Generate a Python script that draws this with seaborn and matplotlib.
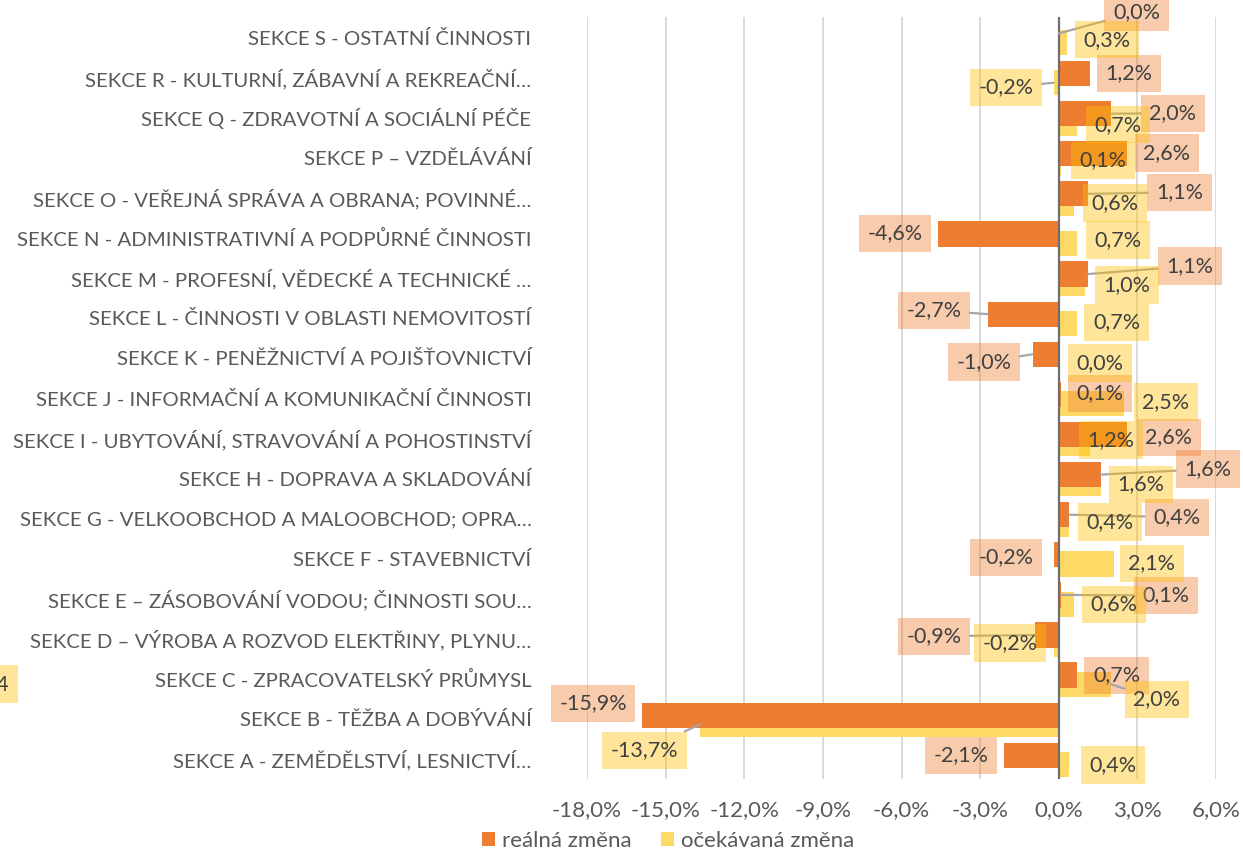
import numpy as np
import pandas as pd
import matplotlib
matplotlib.use("Agg")
import matplotlib.pyplot as plt
import seaborn as sns

# Sections, top to bottom
categories = [
    "SEKCE S - OSTATNÍ ČINNOSTI",
    "SEKCE R - KULTURNÍ, ZÁBAVNÍ A REKREAČNÍ…",
    "SEKCE Q - ZDRAVOTNÍ A SOCIÁLNÍ PÉČE",
    "SEKCE P – VZDĚLÁVÁNÍ",
    "SEKCE O - VEŘEJNÁ SPRÁVA A OBRANA; POVINNÉ…",
    "SEKCE N - ADMINISTRATIVNÍ A PODPŮRNÉ ČINNOSTI",
    "SEKCE M - PROFESNÍ, VĚDECKÉ A TECHNICKÉ …",
    "SEKCE L - ČINNOSTI V OBLASTI NEMOVITOSTÍ",
    "SEKCE K - PENĚŽNICTVÍ A POJIŠŤOVNICTVÍ",
    "SEKCE J - INFORMAČNÍ A KOMUNIKAČNÍ ČINNOSTI",
    "SEKCE I - UBYTOVÁNÍ, STRAVOVÁNÍ A POHOSTINSTVÍ",
    "SEKCE H - DOPRAVA A SKLADOVÁNÍ",
    "SEKCE G - VELKOOBCHOD A MALOOBCHOD; OPRA…",
    "SEKCE F - STAVEBNICTVÍ",
    "SEKCE E – ZÁSOBOVÁNÍ VODOU; ČINNOSTI SOU…",
    "SEKCE D – VÝROBA A ROZVOD ELEKTŘINY, PLYNU…",
    "SEKCE C - ZPRACOVATELSKÝ PRŮMYSL",
    "SEKCE B - TĚŽBA A DOBÝVÁNÍ",
    "SEKCE A - ZEMĚDĚLSTVÍ, LESNICTVÍ…",
]
real_change = [0.0, 1.2, 2.0, 2.6, 1.1, -4.6, 1.1, -2.7, -1.0, 0.1,
               2.6, 1.6, 0.4, -0.2, 0.1, -0.9, 0.7, -15.9, -2.1]
expected_change = [0.3, -0.2, 0.7, 0.1, 0.6, 0.7, 1.0, 0.7, 0.0, 2.5,
                   1.2, 1.6, 0.4, 2.1, 0.6, -0.2, 2.0, -13.7, 0.4]
x_ticks = [-18, -15, -12, -9, -6, -3, 0, 3, 6]
series_names = ["reálná změna", "očekávaná změna"]

# Hand-placed data-label positions (x in %, y in row units) and leader flags
real_label_pos = [(2.97, -0.62), (2.67, 0.90), (4.35, 1.90), (4.12, 2.89),
                  (4.61, 3.87), (-6.25, 4.89), (5.00, 5.71), (-4.77, 6.81),
                  (-2.86, 8.10), (1.56, 8.88), (4.20, 9.98), (5.68, 10.77),
                  (4.50, 11.97), (-2.02, 12.97), (4.08, 13.92), (-4.77, 14.94),
                  (2.21, 15.91), (-17.77, 16.61), (-3.74, 17.91)]
exp_label_pos = [(1.83, 0.07), (-2.02, 1.25), (2.25, 2.19), (1.68, 3.07),
                 (2.14, 4.14), (2.25, 5.06), (2.59, 6.18), (2.21, 7.11),
                 (1.56, 8.13), (4.08, 9.10), (1.98, 10.05), (3.13, 11.15),
                 (1.95, 12.09), (3.55, 13.12), (2.10, 14.14), (-1.87, 15.11),
                 (3.74, 16.51), (-15.79, 17.78), (2.06, 18.15)]
real_leader = [1, 0, 1, 0, 1, 0, 1, 1, 1, 0, 0, 1, 1, 0, 1, 1, 0, 0, 0]
exp_leader = [0, 1, 0, 0, 0, 0, 0, 0, 0, 0, 0, 0, 0, 0, 0, 0, 1, 1, 0]

ORANGE = "#ED7D31"
YELLOW = "#FFD966"
TEXT = "#595959"
LABEL_TEXT = "#404040"
FS = 14.7
XFS = 16
LFS = 15.5

sns.set_theme(style="white")
plt.rcParams["font.family"] = ["Lato", "DejaVu Sans"]

fig = plt.figure(figsize=(12.43, 8.5), dpi=100)
ax = fig.add_axes([587 / 1243, 1 - 779 / 850, (1216 - 587) / 1243, (779 - 17) / 850])

n = len(categories)
rows = np.arange(n)
df = pd.DataFrame({
    "row": rows,
    "real": real_change,
    "expected": expected_change,
})
df["row_real"] = df["row"] - 0.09
df["row_exp"] = df["row"] + 0.14

bar_h = 0.63
sns.barplot(data=df, x="expected", y="row_exp", orient="h", native_scale=True,
            width=bar_h, color=YELLOW, saturation=1, errorbar=None, ax=ax,
            linewidth=0)
sns.barplot(data=df, x="real", y="row_real", orient="h", native_scale=True,
            width=bar_h, color=ORANGE, saturation=1, errorbar=None, ax=ax,
            linewidth=0)

ax.set_xlim(-18, 6)
ax.set_ylim(n - 0.5, -0.5)
ax.set_xticks(x_ticks)
ax.set_xticklabels([f"{t:.1f}%".replace(".", ",") for t in x_ticks],
                   fontsize=XFS, color=TEXT)
ax.set_yticks(rows)
ax.set_yticklabels(categories, fontsize=FS, color=TEXT)
ax.tick_params(axis="y", length=0, pad=40)
ax.tick_params(axis="x", length=0, pad=15)
ax.set_xlabel("")
ax.set_ylabel("")
for s in ax.spines.values():
    s.set_visible(False)
ax.grid(False)
for t in x_ticks:
    if t != 0:
        ax.axvline(t, color="#D9D9D9", lw=1.4, zorder=0)
ax.axvline(0, color="#6E6E6E", lw=1.6, zorder=3)


def fmt(v):
    return f"{v:.1f}%".replace(".", ",")


def put_labels(values, positions, leaders, y_off, box_color):
    for v, (lx, ly), lead, r in zip(values, positions, leaders, rows):
        bbox = dict(boxstyle="square,pad=0.4", fc=box_color, alpha=0.4, lw=0)
        if lead:
            ax.annotate(fmt(v), xy=(v, r + y_off), xytext=(lx, ly),
                        ha="center", va="center", fontsize=LFS, color=LABEL_TEXT,
                        bbox=bbox, zorder=5, annotation_clip=False,
                        arrowprops=dict(arrowstyle="-", color="#A6A6A6", lw=1.6,
                                        shrinkA=0, shrinkB=0))
        else:
            ax.text(lx, ly, fmt(v), ha="center", va="center", fontsize=LFS,
                    color=LABEL_TEXT, bbox=bbox, zorder=5)


put_labels(real_change, real_label_pos, real_leader, -0.09, ORANGE)
put_labels(expected_change, exp_label_pos, exp_leader, 0.14, "#FFC000")

# label sitting on the left border of the figure
fig.text(9 / 1243, 1 - 684 / 850, "0,4", ha="right", va="center", fontsize=LFS,
         color=LABEL_TEXT,
         bbox=dict(boxstyle="square,pad=0.4", fc="#FFC000", alpha=0.4, lw=0))

handles = [plt.Rectangle((0, 0), 1, 1, fc=ORANGE, lw=0),
           plt.Rectangle((0, 0), 1, 1, fc=YELLOW, lw=0)]
leg = fig.legend(handles, series_names, loc="center", ncol=2,
                 bbox_to_anchor=(668 / 1243, 1 - 841 / 850), frameon=False,
                 fontsize=16, handlelength=0.6, handleheight=0.6,
                 handletextpad=0.3, columnspacing=1.3, borderpad=0)
for t in leg.get_texts():
    t.set_color(TEXT)

fig.savefig("out.png", dpi=100, facecolor="white")
